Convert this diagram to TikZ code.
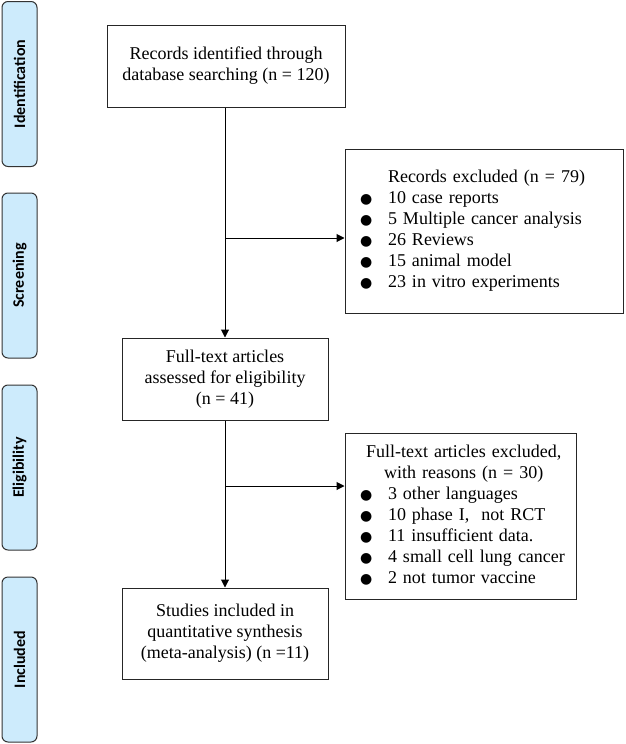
\documentclass[tikz,border=0pt]{standalone}
\usepackage{fontspec}
\setmainfont{Liberation Serif}
\newfontfamily\stagefont{Carlito}
\newfontfamily\symfont{DejaVu Sans}
\usetikzlibrary{arrows.meta}
\definecolor{stageblue}{RGB}{205,235,252}
\tikzstyle{stage}=[draw=black!80,fill=stageblue,line width=1pt,rounded corners=6pt,rotate=90,minimum width=165pt,minimum height=35pt,font=\stagefont\bfseries\fontsize{16}{18}\selectfont]
\tikzstyle{flowbox}=[draw=black!85,line width=1pt,align=center,font=\fontsize{18}{21}\selectfont]
\tikzstyle{listbox}=[draw=black!85,line width=1pt,align=left,inner xsep=15pt,font=\fontsize{18}{21}\selectfont]
\tikzstyle{flow}=[draw=black,line width=1pt,-{Triangle[length=8pt,width=8pt]}]
\newcommand{\blt}{{\symfont\fontsize{14}{21}\selectfont ●}}

\begin{document}
\begin{tikzpicture}[x=1pt,y=-1pt]
\useasboundingbox (0,0) rectangle (625,744);
% stages
\node[stage] (ident) at (19.5,84) {Identification};
\node[stage] (screen) at (19.5,275.5) {Screening};
\node[stage] (elig) at (19.5,467.5) {Eligibility};
\node[stage] (incl) at (19.5,659.5) {Included};
% main column
\node[flowbox,minimum width=238pt,minimum height=82pt] (records) at (226,66)
    {Records identified through\\database searching (n = 120)};
\node[flowbox,minimum width=206pt,minimum height=82pt] (fulltext) at (225,379)
    {Full-text articles\\assessed for eligibility\\(n = 41)};
\node[flowbox,minimum width=206pt,minimum height=91pt] (studies) at (225,633.5)
    {Studies included in\\quantitative synthesis\\(meta-analysis) (n =11)};
% exclusions
\node[listbox,text width=248pt,minimum height=164pt] (recexcl) at (484,231) {%
    \begin{tabular}{@{}p{28pt}@{}l@{}}
     & Records excluded (n = 79)\\
    \blt & 10 case reports\\
    \blt & 5 Multiple cancer analysis\\
    \blt & 26 Reviews\\
    \blt & 15 animal model\\
    \blt & 23 in vitro experiments
    \end{tabular}};
\node[listbox,text width=201pt,minimum height=166pt] (ftexcl) at (460.5,516) {%
    \begin{tabular}{@{}p{28pt}@{}l@{}}
    \multicolumn{2}{c}{Full-text articles excluded,}\\
    \multicolumn{2}{c}{with reasons (n = 30)}\\
    \blt & 3 other languages\\
    \blt & 10 phase I, \ not RCT\\
    \blt & 11 insufficient data.\\
    \blt & 4 small cell lung cancer\\
    \blt & 2 not tumor vaccine
    \end{tabular}};
% connectors
\coordinate (split1) at (225,238);
\coordinate (split2) at (225,486);
\draw[flow] (fulltext.north |- records.south) -- (fulltext.north);
\draw[flow] (split1) -- (split1 -| recexcl.west);
\draw[flow] (fulltext.south) -- (studies.north);
\draw[flow] (split2) -- (split2 -| ftexcl.west);
\end{tikzpicture}
\end{document}
